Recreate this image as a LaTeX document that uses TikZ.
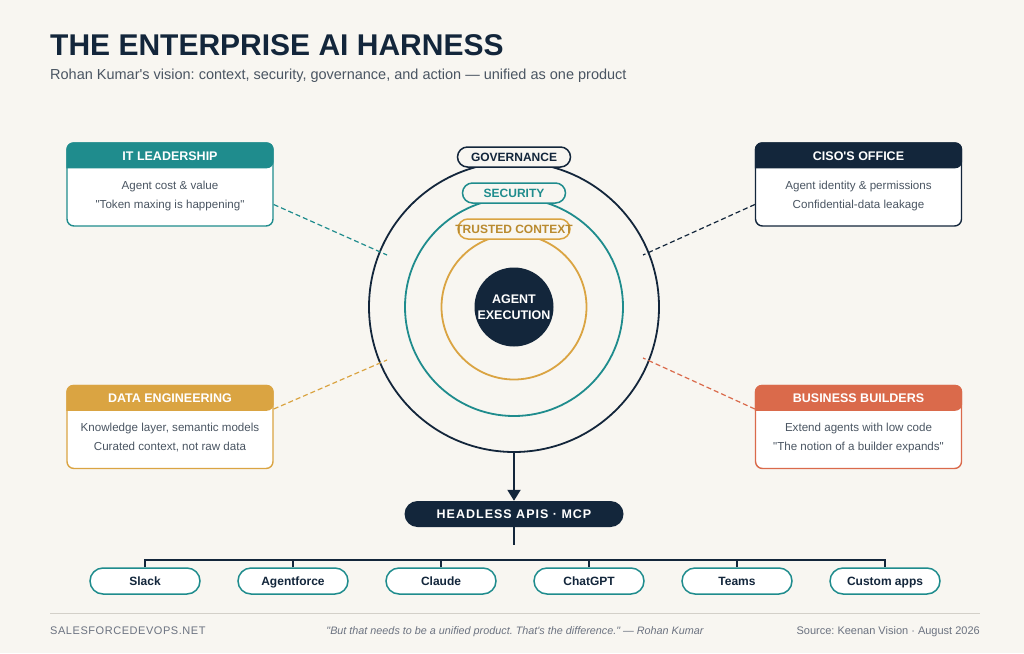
\documentclass[tikz,border=0pt]{standalone}
\usepackage{fontspec}
\setmainfont{Liberation Sans}
\newfontfamily\spaced[LetterSpace=8]{Liberation Sans}
\newfontfamily\spacedsm[LetterSpace=5]{Liberation Sans}
\usetikzlibrary{arrows.meta}
\definecolor{bgc}{HTML}{F8F6F1}
\definecolor{navy}{HTML}{13263B}
\definecolor{tealc}{HTML}{1F8C8D}
\definecolor{goldc}{HTML}{DAA442}
\definecolor{golddk}{HTML}{B98A2E}
\definecolor{orangec}{HTML}{DA6A4B}
\definecolor{bodyc}{HTML}{4A5562}
\definecolor{footc}{HTML}{6B7280}
\definecolor{rulec}{HTML}{D3D0C9}
\frenchspacing
\begin{document}
\begin{tikzpicture}[x=1pt, y=-1pt, >={Triangle[length=11pt,width=13pt]},
  ring/.style={circle, draw, line width=1.8pt, minimum size=#1, inner sep=0pt},
  tag/.style={draw, fill=bgc, rounded corners=10pt, line width=1.5pt, minimum height=20pt, inner sep=0pt, text height=8.6pt, text depth=0pt, font=\fontsize{12}{14}\selectfont\bfseries},
  stake/.style={draw, fill=white, rounded corners=7pt, line width=1.4pt, minimum width=206pt, minimum height=83pt},
  line/.style={text height=8.3pt, text depth=0pt, inner sep=0pt},
  link/.style={line width=1.2pt, dash pattern=on 5pt off 3pt},
  app/.style={draw=tealc, fill=white, rounded corners=13pt, line width=1.5pt, minimum width=110pt, minimum height=26pt, text height=8.6pt, text depth=0pt, text=navy, font=\fontsize{12}{14}\selectfont\bfseries}]
  \path[use as bounding box, fill=bgc] (0,0) rectangle (1024,653);

  % Title
  \node[anchor=base west, inner sep=0pt, text=navy, font=\fontsize{30}{36}\selectfont\bfseries] (title) at (50,55) {THE ENTERPRISE AI HARNESS};
  \node[anchor=base west, inner sep=0pt, text=bodyc, font=\fontsize{14.5}{17}\selectfont] (subtitle) at (50,79) {Rohan Kumar\textquotesingle s vision: context, security, governance, and action --- unified as one product};

  % Rings
  \node[ring=290pt, draw=navy] (gov) at (514,307) {};
  \node[ring=218pt, draw=tealc] (sec) at (514,307) {};
  \node[ring=145pt, draw=goldc] (ctx) at (514,307) {};
  \node[circle, fill=navy, minimum size=79pt, inner sep=0pt, align=center, text=white, font=\fontsize{12.5}{15.5}\selectfont\bfseries] (exec) at (514,307) {AGENT\\EXECUTION};
  \node[tag, minimum width=113pt, draw=navy, text=navy] (govtag) at (514,157) {GOVERNANCE};
  \node[tag, minimum width=103pt, draw=tealc, text=tealc] (sectag) at (514,193) {SECURITY};
  \node[tag, minimum width=112pt, draw=goldc, text=golddk] (ctxtag) at (514,229) {\makebox[100pt]{TRUSTED CONTEXT}};

  % Stakeholders
  \foreach \nm/\x/\y/\col/\ttl/\la/\lb in {
      itl/170/184.5/tealc/{IT LEADERSHIP}/{Agent cost \& value}/{\textquotedbl Token maxing is happening\textquotedbl},
      ciso/858.5/184.5/navy/{CISO\textquotesingle S OFFICE}/{Agent identity \& permissions}/{Confidential-data leakage},
      deng/170/427/goldc/{DATA ENGINEERING}/{Knowledge layer, semantic models}/{Curated context, not raw data},
      bldr/858.5/427/orangec/{BUSINESS BUILDERS}/{Extend agents with low code}/{\textquotedbl The notion of a builder expands\textquotedbl}} {
    \node[stake, draw=\col] (\nm) at (\x,\y) {};
    \fill[\col] ([yshift=-26pt]\nm.north west) [rounded corners=7pt] |- (\nm.north) -| ([yshift=-26pt]\nm.north east) [sharp corners] -- cycle;
    \node[line, text height=8.8pt, text=white, font=\fontsize{12.5}{15}\selectfont\bfseries] at ([yshift=-13.5pt]\nm.north) {\ttl};
    \node[line, text=bodyc, font=\fontsize{11.6}{14}\selectfont] at ([yshift=-43pt]\nm.north) {\la};
    \node[line, text=bodyc, font=\fontsize{11.6}{14}\selectfont] at ([yshift=-62pt]\nm.north) {\lb};
  }

  % Links to rings
  \coordinate (itlend) at (387,255);
  \coordinate (cisoend) at (643,255);
  \coordinate (dengend) at (387,360);
  \coordinate (bldrend) at (643,358);
  \draw[link, tealc] ([yshift=-20pt]itl.east) -- (itlend);
  \draw[link, navy] ([yshift=-20pt]ciso.west) -- (cisoend);
  \draw[link, goldc] ([yshift=18pt]deng.east) -- (dengend);
  \draw[link, orangec] ([yshift=18pt]bldr.west) -- (bldrend);

  % APIs
  \node[fill=navy, rounded corners=13pt, minimum width=219pt, minimum height=26pt, text height=8.6pt, text depth=0pt, text=white, font=\spaced\fontsize{12.5}{15}\selectfont\bfseries] (apis) at (514,514) {HEADLESS APIS · MCP};
  \draw[->, navy, line width=2pt] (gov.south) -- (apis.north);
  \coordinate (stem) at (514,545);
  \draw[navy, line width=1.3pt] (apis.south) -- (stem);

  % Channels
  \coordinate (bus) at (514,560);
  \foreach \nm/\x/\txt in {slack/145/Slack, agentforce/293/Agentforce, claude/441/Claude, chatgpt/589/ChatGPT, teams/737/Teams, custom/885/Custom apps}
    \node[app] (\nm) at (\x,581) {\txt};
  \draw[navy, line width=1.3pt] (slack.north) -- (slack.north |- bus) -- (custom.north |- bus) -- (custom.north);
  \foreach \nm in {agentforce, claude, chatgpt, teams}
    \draw[navy, line width=1.3pt] (\nm.north) -- (\nm.north |- bus);

  % Footer
  \draw[rulec, line width=1pt] (50,613) -- (980,613);
  \node[anchor=base west, inner sep=0pt, text=footc, font=\spacedsm\fontsize{11}{13}\selectfont] (site) at (50,634) {SALESFORCEDEVOPS.NET};
  \node[anchor=base, inner sep=0pt, text=footc, font=\fontsize{10.8}{13}\selectfont\itshape] (quote) at (515,634) {\textquotedbl But that needs to be a unified product. That\textquotesingle s the difference.\textquotedbl{} --- Rohan Kumar};
  \node[anchor=base east, inner sep=0pt, text=footc, font=\fontsize{11}{13}\selectfont] (source) at (980,634) {Source: Keenan Vision · August 2026};
\end{tikzpicture}
\end{document}
